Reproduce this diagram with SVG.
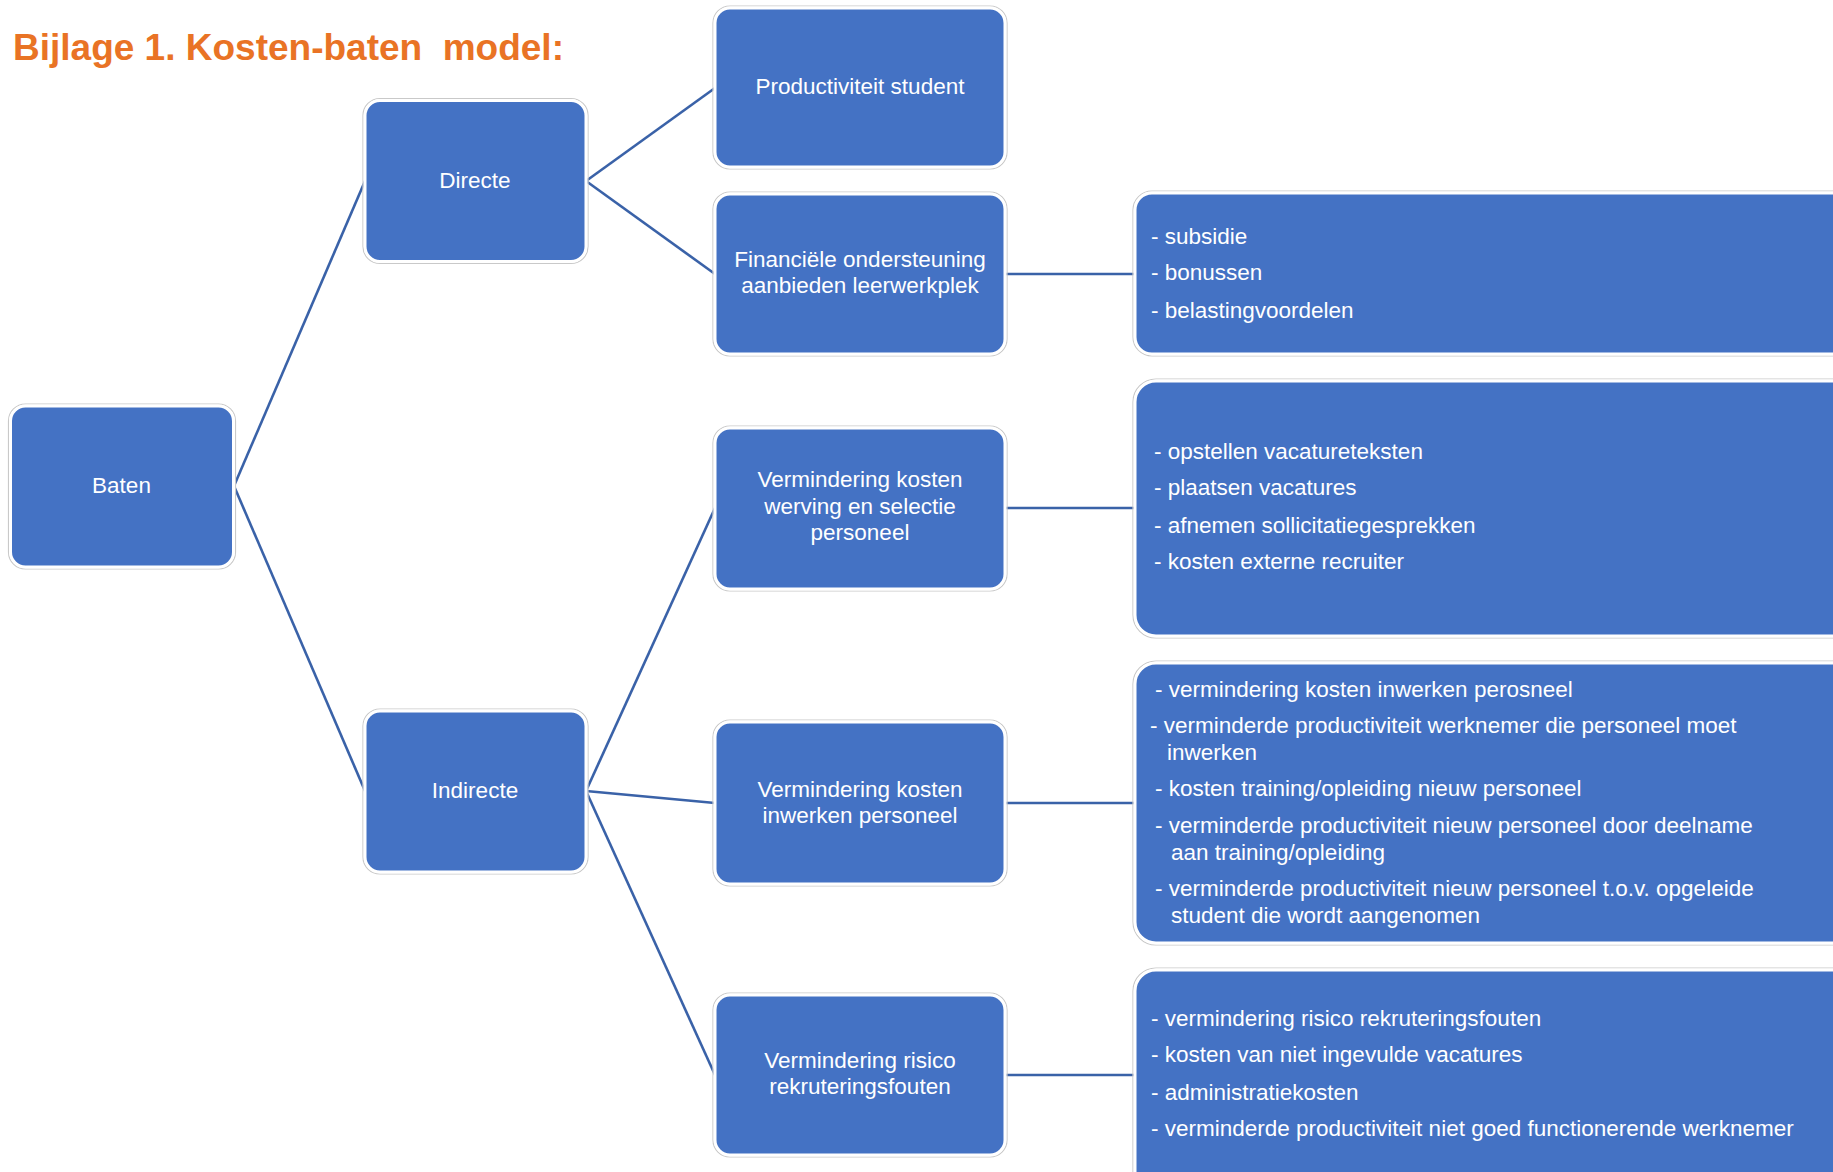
<svg xmlns="http://www.w3.org/2000/svg" width="1833" height="1172" viewBox="0 0 1833 1172">
<style>
.box{fill:#4472C4;stroke:#ffffff;stroke-width:3}
.halo{fill:none;stroke:#c9c9c9;stroke-width:1.2}
.t{font-family:"Liberation Sans",Arial,sans-serif;font-size:22.5px;fill:#ffffff}
.c{text-anchor:middle}
.conn{stroke:#3A62A8;stroke-width:2.6;fill:none}
.title{font-family:"Liberation Sans",Arial,sans-serif;font-size:37px;font-weight:bold;fill:#E97325}
</style>
<rect width="1833" height="1172" fill="#ffffff"/>
<text class="title" x="13" y="60" xml:space="preserve">Bijlage 1. Kosten-baten  model:</text>
<g id="connectors">
<line class="conn" x1="234" y1="486" x2="365" y2="181"/>
<line class="conn" x1="234" y1="486" x2="365" y2="791"/>
<line class="conn" x1="586" y1="181" x2="715" y2="88"/>
<line class="conn" x1="586" y1="181" x2="715" y2="274"/>
<line class="conn" x1="586" y1="791" x2="715" y2="508"/>
<line class="conn" x1="586" y1="791" x2="715" y2="803"/>
<line class="conn" x1="586" y1="791" x2="715" y2="1075"/>
<line class="conn" x1="1005" y1="274" x2="1135" y2="274"/>
<line class="conn" x1="1005" y1="508" x2="1135" y2="508"/>
<line class="conn" x1="1005" y1="803" x2="1135" y2="803"/>
<line class="conn" x1="1005" y1="1075" x2="1135" y2="1075"/>
</g>
<g id="baten">
<rect class="halo" x="8.5" y="404" width="227" height="165" rx="17"/>
<rect class="box" x="10.5" y="406" width="223" height="161" rx="15"/>
<text class="t c" x="121.5" y="493">Baten</text>
</g>
<g id="directe">
<rect class="halo" x="363" y="98.5" width="225" height="165" rx="17"/>
<rect class="box" x="365" y="100.5" width="221" height="161" rx="15"/>
<text class="t c" x="475" y="188">Directe</text>
</g>
<g id="indirecte">
<rect class="halo" x="363" y="709" width="225" height="165" rx="17"/>
<rect class="box" x="365" y="711" width="221" height="161" rx="15"/>
<text class="t c" x="475" y="798">Indirecte</text>
</g>
<g id="productiviteit">
<rect class="halo" x="713" y="6" width="294" height="163" rx="17"/>
<rect class="box" x="715" y="8" width="290" height="159" rx="15"/>
<text class="t c" x="860" y="94">Productiviteit student</text>
</g>
<g id="financiele">
<rect class="halo" x="713" y="192" width="294" height="164" rx="17"/>
<rect class="box" x="715" y="194" width="290" height="160" rx="15"/>
<text class="t c" x="860" y="267">Financiële ondersteuning</text>
<text class="t c" x="860" y="293">aanbieden leerwerkplek</text>
</g>
<g id="werving">
<rect class="halo" x="713" y="426" width="294" height="165" rx="17"/>
<rect class="box" x="715" y="428" width="290" height="161" rx="15"/>
<text class="t c" x="860" y="487">Vermindering kosten</text>
<text class="t c" x="860" y="514">werving en selectie</text>
<text class="t c" x="860" y="540">personeel</text>
</g>
<g id="inwerken">
<rect class="halo" x="713" y="720" width="294" height="166" rx="17"/>
<rect class="box" x="715" y="722" width="290" height="162" rx="15"/>
<text class="t c" x="860" y="797">Vermindering kosten</text>
<text class="t c" x="860" y="823">inwerken personeel</text>
</g>
<g id="risico">
<rect class="halo" x="713" y="993" width="294" height="164" rx="17"/>
<rect class="box" x="715" y="995" width="290" height="160" rx="15"/>
<text class="t c" x="860" y="1068">Vermindering risico</text>
<text class="t c" x="860" y="1094">rekruteringsfouten</text>
</g>
<g id="detail-financiele">
<rect class="halo" x="1133" y="191" width="730" height="165" rx="19"/>
<rect class="box" x="1135" y="193" width="726" height="161" rx="17"/>
<text class="t" x="1151" y="244">- subsidie</text>
<text class="t" x="1151" y="280">- bonussen</text>
<text class="t" x="1151" y="318">- belastingvoordelen</text>
</g>
<g id="detail-werving">
<rect class="halo" x="1133" y="379" width="730" height="259" rx="23"/>
<rect class="box" x="1135" y="381" width="726" height="255" rx="21"/>
<text class="t" x="1154" y="459">- opstellen vacatureteksten</text>
<text class="t" x="1154" y="495">- plaatsen vacatures</text>
<text class="t" x="1154" y="533">- afnemen sollicitatiegesprekken</text>
<text class="t" x="1154" y="569">- kosten externe recruiter</text>
</g>
<g id="detail-inwerken">
<rect class="halo" x="1133" y="661" width="730" height="284" rx="23"/>
<rect class="box" x="1135" y="663" width="726" height="280" rx="21"/>
<text class="t" x="1155" y="697">- vermindering kosten inwerken perosneel</text>
<text class="t" x="1150" y="733">- verminderde productiviteit werknemer die personeel moet</text>
<text class="t" x="1167" y="760">inwerken</text>
<text class="t" x="1155" y="796">- kosten training/opleiding nieuw personeel</text>
<text class="t" x="1155" y="833">- verminderde productiviteit nieuw personeel door deelname</text>
<text class="t" x="1171" y="860">aan training/opleiding</text>
<text class="t" x="1155" y="896">- verminderde productiviteit nieuw personeel t.o.v. opgeleide</text>
<text class="t" x="1171" y="923">student die wordt aangenomen</text>
</g>
<g id="detail-risico">
<rect class="halo" x="1133" y="968" width="730" height="240" rx="23"/>
<rect class="box" x="1135" y="970" width="726" height="236" rx="21"/>
<text class="t" x="1151" y="1026">- vermindering risico rekruteringsfouten</text>
<text class="t" x="1151" y="1062">- kosten van niet ingevulde vacatures</text>
<text class="t" x="1151" y="1100">- administratiekosten</text>
<text class="t" x="1151" y="1136">- verminderde productiviteit niet goed functionerende werknemer</text>
</g>
</svg>
